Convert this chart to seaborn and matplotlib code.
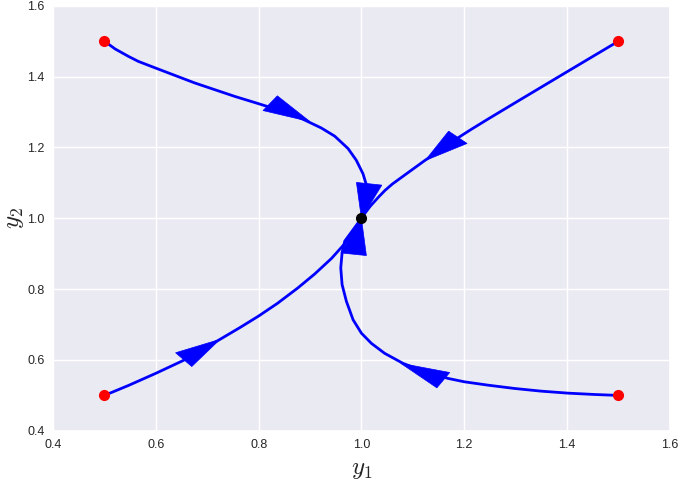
import matplotlib
matplotlib.use('Agg')
import matplotlib.pyplot as plt
import seaborn as sns
import pandas as pd

# ------------------------------------------------------------
# data
# ------------------------------------------------------------

# trajectory from (0.5, 1.5)
traj_a_y1 = [0.500, 0.521, 0.547, 0.566, 0.600, 0.638, 0.676, 0.715, 0.754, 0.799,
             0.845, 0.883, 0.922, 0.948, 0.974, 0.990, 1.003, 1.010, 1.008, 1.000]
traj_a_y2 = [1.500, 1.478, 1.457, 1.443, 1.424, 1.403, 1.382, 1.363, 1.344, 1.324,
             1.303, 1.282, 1.255, 1.232, 1.197, 1.164, 1.126, 1.093, 1.050, 1.000]

# trajectory from (1.5, 1.5)
traj_b_y1 = [1.500, 1.405, 1.308, 1.2434, 1.2112, 1.1914, 1.1225, 1.0929, 1.060,
             1.046, 1.0338, 1.0174, 1.0075, 1.000]
traj_b_y2 = [1.500, 1.418, 1.334, 1.2777, 1.2489, 1.2305, 1.1624, 1.1313, 1.0966,
             1.079, 1.0608, 1.0345, 1.0157, 1.000]

# trajectory from (0.5, 0.5)
traj_c_y1 = [0.500, 0.5474, 0.600, 0.6526, 0.7249, 0.7643, 0.800, 0.8366, 0.876,
             0.9089, 0.9418, 0.968, 0.9877, 1.000]
traj_c_y2 = [0.500, 0.5285, 0.5624, 0.5981, 0.6583, 0.6921, 0.7241, 0.7599, 0.8031,
             0.8426, 0.8868, 0.9291, 0.9668, 1.000]

# trajectory from (1.5, 0.5)
traj_d_y1 = [1.500, 1.454, 1.402, 1.350, 1.298, 1.246, 1.200, 1.1686, 1.125, 1.081,
             1.045, 1.0194, 1.000, 0.9838, 0.9708, 0.9624, 0.9598, 0.9624, 0.9676,
             0.985, 1.000]
traj_d_y2 = [0.500, 0.5026, 0.5064, 0.512, 0.5196, 0.529, 0.5385, 0.548, 0.566, 0.5905,
             0.619, 0.647, 0.6757, 0.7135, 0.7655, 0.8128, 0.860, 0.9026, 0.9357,
             0.970, 1.000]

start_y1 = [0.5, 1.5, 0.5, 1.5]
start_y2 = [1.5, 1.5, 0.5, 0.5]
equil_y1 = [1.0]
equil_y2 = [1.0]

# arrow heads: back-centre -> tip
arrow_base_y1 = [0.8225, 1.015, 1.1876, 0.6542, 1.1593, 0.9849]
arrow_base_y2 = [1.325, 1.0975, 1.2287, 0.601, 0.543, 0.8986]
arrow_tip_y1 = [0.900, 1.000, 1.124, 0.7249, 1.0765, 1.000]
arrow_tip_y2 = [1.273, 1.000, 1.163, 0.6583, 0.5906, 1.000]

# ------------------------------------------------------------
# style
# ------------------------------------------------------------
sns.set_theme(style='darkgrid')
plt.rcParams['font.family'] = ['Liberation Sans', 'DejaVu Sans']
plt.rcParams['mathtext.fontset'] = 'cm'

BLUE = '#0000FF'

frames = []
for name, xs, ys in [('a', traj_a_y1, traj_a_y2), ('b', traj_b_y1, traj_b_y2),
                     ('c', traj_c_y1, traj_c_y2), ('d', traj_d_y1, traj_d_y2)]:
    frames.append(pd.DataFrame({'traj': name, 'y1': xs, 'y2': ys}))
df = pd.concat(frames, ignore_index=True)

fig = plt.figure(figsize=(6.8, 4.83), dpi=100)
ax = fig.add_axes([0.078, 0.108, 0.907, 0.880])

sns.lineplot(data=df, x='y1', y='y2', units='traj', estimator=None, sort=False,
             color=BLUE, lw=2, ax=ax, zorder=2)
for line in ax.lines:
    line.set_solid_joinstyle('round')

for bx, by, tx, ty in zip(arrow_base_y1, arrow_base_y2, arrow_tip_y1, arrow_tip_y2):
    length = ((tx - bx) ** 2 + (ty - by) ** 2) ** 0.5
    ax.arrow(bx, by, tx - bx, ty - by, length_includes_head=True,
             head_width=0.05, head_length=length, width=0.0,
             fc=BLUE, ec=BLUE, lw=0.5, zorder=3)

ax.plot(start_y1, start_y2, 'o', color='red', ms=7, zorder=4)
ax.plot(equil_y1, equil_y2, 'o', color='black', ms=7, zorder=5)

ax.set_xlim(0.4, 1.6)
ax.set_ylim(0.4, 1.6)
ax.set_xticks([0.4, 0.6, 0.8, 1.0, 1.2, 1.4, 1.6])
ax.set_yticks([0.4, 0.6, 0.8, 1.0, 1.2, 1.4, 1.6])
ax.tick_params(labelsize=9, length=0, pad=6)
ax.set_xlabel('$y_1$', fontsize=18)
ax.set_ylabel('$y_2$', fontsize=18, labelpad=1)

plt.savefig('out.png', dpi=100)
